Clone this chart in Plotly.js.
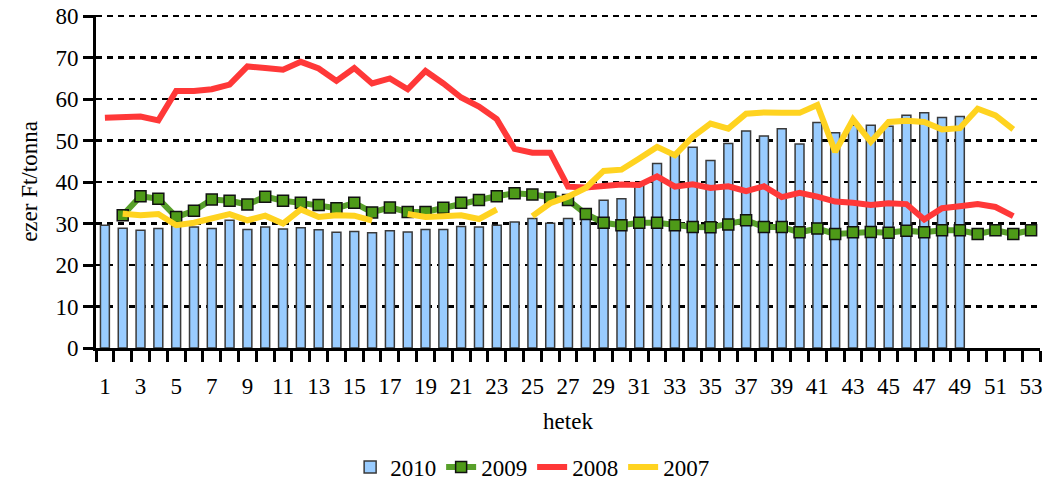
<!DOCTYPE html>
<html>
<head>
<meta charset="utf-8">
<script src="https://cdn.plot.ly/plotly-3.0.1.min.js"></script>
<style>html,body{margin:0;padding:0;background:#fff;}#chart{width:1051px;height:480px;}</style>
</head>
<body>
<div id="chart"></div>
<script>
const weeks = [1,2,3,4,5,6,7,8,9,10,11,12,13,14,15,16,17,18,19,20,21,22,23,24,25,26,27,28,29,30,31,32,33,34,35,36,37,38,39,40,41,42,43,44,45,46,47,48,49,50,51,52,53];
const tickWeeks = [1,3,5,7,9,11,13,15,17,19,21,23,25,27,29,31,33,35,37,39,41,43,45,47,49,51,53];

const v2010 = [29.6,28.9,28.4,28.8,29.5,29.2,28.8,30.8,28.6,29.2,
               28.7,29.0,28.5,27.9,28.1,27.8,28.3,28.0,28.6,28.6,
               29.3,29.2,29.6,30.4,31.2,30.1,31.2,31.5,35.6,36.0,
               39.5,44.5,46.8,48.4,45.2,49.3,52.3,51.1,52.9,49.2,
               54.4,51.9,53.7,53.7,53.5,56.1,56.7,55.6,55.8,null,
               null,null,null];
const v2009 = [null,32.0,36.6,36.0,31.6,33.1,35.8,35.5,34.6,36.5,
               35.5,35.0,34.5,33.7,35.0,32.7,33.9,32.8,32.8,33.8,
               35.0,35.7,36.6,37.3,37.0,36.3,35.7,32.3,30.2,29.6,
               30.2,30.2,29.6,29.2,29.1,29.8,30.8,29.2,29.2,27.9,
               28.8,27.5,27.9,28.0,27.8,28.3,27.9,28.4,28.4,27.5,
               28.4,27.5,28.4];
const v2008 = [55.5,55.7,55.8,54.9,62.0,62.0,62.4,63.5,67.9,67.5,
               67.1,69.0,67.4,64.4,67.5,63.8,65.0,62.4,66.8,63.8,
               60.4,58.2,55.2,48.0,47.1,47.1,38.9,38.7,39.1,39.4,
               39.3,41.4,38.9,39.5,38.6,39.0,37.8,39.0,36.4,37.4,
               36.5,35.3,35.0,34.5,34.9,34.7,31.0,33.7,34.2,34.7,
               34.0,31.8,null];
const v2007 = [null,32.4,32.0,32.3,29.6,30.2,31.2,32.3,30.8,31.9,
               30.0,33.4,31.6,32.0,31.9,30.7,null,32.3,31.6,31.8,
               32.0,31.1,33.4,null,31.8,34.9,36.5,38.6,42.7,43.0,
               45.7,48.5,46.5,50.9,54.1,52.9,56.5,56.8,56.7,56.7,
               58.6,47.3,55.1,49.7,54.5,54.8,54.5,52.7,53.0,57.7,
               56.1,52.7,null];
const seriesNames = ['2010','2009','2008','2007'];

const FONT = '"Liberation Serif", "DejaVu Serif", serif';

const traces = [
  {type:'bar', name:seriesNames[0], x:weeks, y:v2010, width:0.5,
   marker:{color:'#99CCFF', line:{color:'#3a3a3a', width:1.5}}},
  {type:'scatter', mode:'lines+markers', name:seriesNames[1], x:weeks, y:v2009,
   line:{color:'#58A02A', width:6},
   marker:{symbol:'square', size:11, color:'#4E9A18', line:{color:'#111', width:1.5}}},
  {type:'scatter', mode:'lines', name:seriesNames[2], x:weeks, y:v2008,
   line:{color:'#FF3838', width:6}},
  {type:'scatter', mode:'lines', name:seriesNames[3], x:weeks, y:v2007,
   line:{color:'#FFD320', width:6}}
];

const layout = {
  width:1051, height:480,
  margin:{l:96, r:11, t:15, b:132},
  paper_bgcolor:'#fff', plot_bgcolor:'#fff',
  font:{family:FONT, size:23, color:'#000'},
  showlegend:true,
  bargap:0,
  xaxis:{
    automargin:false,
    range:[0.5,53.5], tickmode:'array', tickvals:tickWeeks,
    ticks:'', showgrid:false, zeroline:false,
    showline:true, linecolor:'#000', linewidth:3,
    ticklabelstandoff:15,
    minor:{tick0:0.5, dtick:1, ticks:'outside', ticklen:11, tickwidth:3, tickcolor:'#000', showgrid:false},
    tickfont:{family:FONT, size:23},
    title:{text:'hetek', font:{family:FONT, size:23}, standoff:16}
  },
  yaxis:{
    automargin:false,
    range:[0,80.3], tickmode:'linear', tick0:0, dtick:10,
    showgrid:true, gridcolor:'#000', gridwidth:2.5, griddash:'6px,5px',
    zeroline:false, showline:true, linecolor:'#000', linewidth:3,
    ticks:'outside', ticklen:10, tickwidth:3, tickcolor:'#000',
    tickfont:{family:FONT, size:23},
    title:{text:'ezer Ft/tonna', font:{family:FONT, size:23}, standoff:12}
  },
  legend:{orientation:'h', x:0.462, xanchor:'center',
          yref:'container', y:0.027, yanchor:'middle',
          font:{family:FONT, size:23}, bgcolor:'rgba(0,0,0,0)'}
};

Plotly.newPlot('chart', traces, layout, {displayModeBar:false, staticPlot:true});
</script>
</body>
</html>
